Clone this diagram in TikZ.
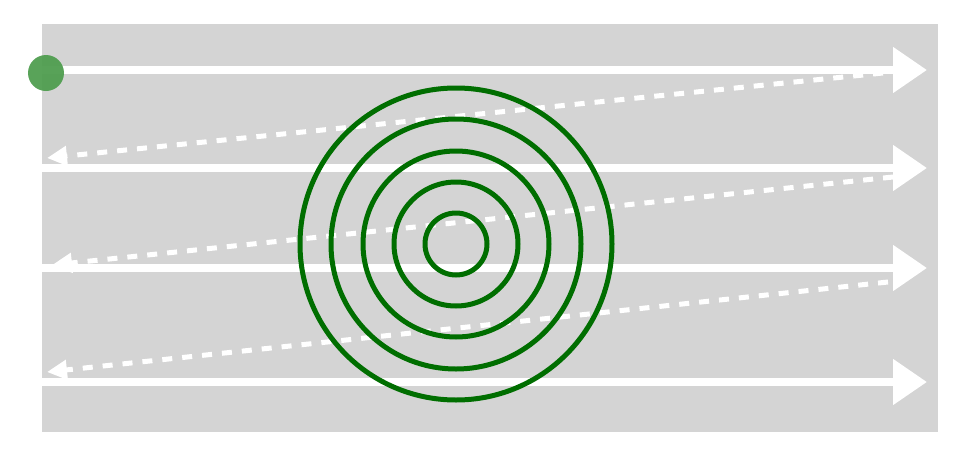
\documentclass[tikz,border=0pt]{standalone}
\usepackage{tikz}
\usetikzlibrary{arrows.meta}
\definecolor{boardgray}{RGB}{212,212,212}
\definecolor{ringgreen}{RGB}{0,110,0}
\definecolor{dotgreen}{RGB}{80,158,80}

\begin{document}
\begin{tikzpicture}[x=0.02cm, y=-0.02cm,
    pass/.style={white, line width=8*0.02cm, -{Triangle[length=0.68cm, width=0.88cm]}},
    back/.style={white, line width=5*0.02cm, dash pattern=on 0.2cm off 0.2cm, -{Triangle[length=0.4cm, width=0.38cm]}},
    ring/.style={ringgreen, line width=5*0.02cm}
]
\useasboundingbox (0,0) rectangle (971,460);
\fill[boardgray] (42,24) rectangle (938,432);
% start and end points of the passes
\coordinate (a1) at (42,70);   \coordinate (b1) at (927,70);
\coordinate (a2) at (42,168);  \coordinate (b2) at (927,168);
\coordinate (a3) at (42,268);  \coordinate (b3) at (927,268);
\coordinate (a4) at (42,382);  \coordinate (b4) at (927,382);
\coordinate (r1) at (883,73);  \coordinate (l1) at (47,158);
\coordinate (r2) at (893,177); \coordinate (l2) at (52,265);
\coordinate (r3) at (888,282); \coordinate (l3) at (47,372);
\draw[pass] (a1) -- (b1);
\draw[pass] (a2) -- (b2);
\draw[pass] (a3) -- (b3);
\draw[pass] (a4) -- (b4);
\draw[back] (r1) -- (l1);
\draw[back] (r2) -- (l2);
\draw[back] (r3) -- (l3);
% target rings
\coordinate (centre) at (456,244);
\foreach \r in {31,62,93,125,156}
    \draw[ring] (centre) circle (\r);
\node[circle, fill=dotgreen, fill opacity=0.95, minimum size=36*0.02cm, inner sep=0pt] (start) at (46,73) {};
\end{tikzpicture}
\end{document}
